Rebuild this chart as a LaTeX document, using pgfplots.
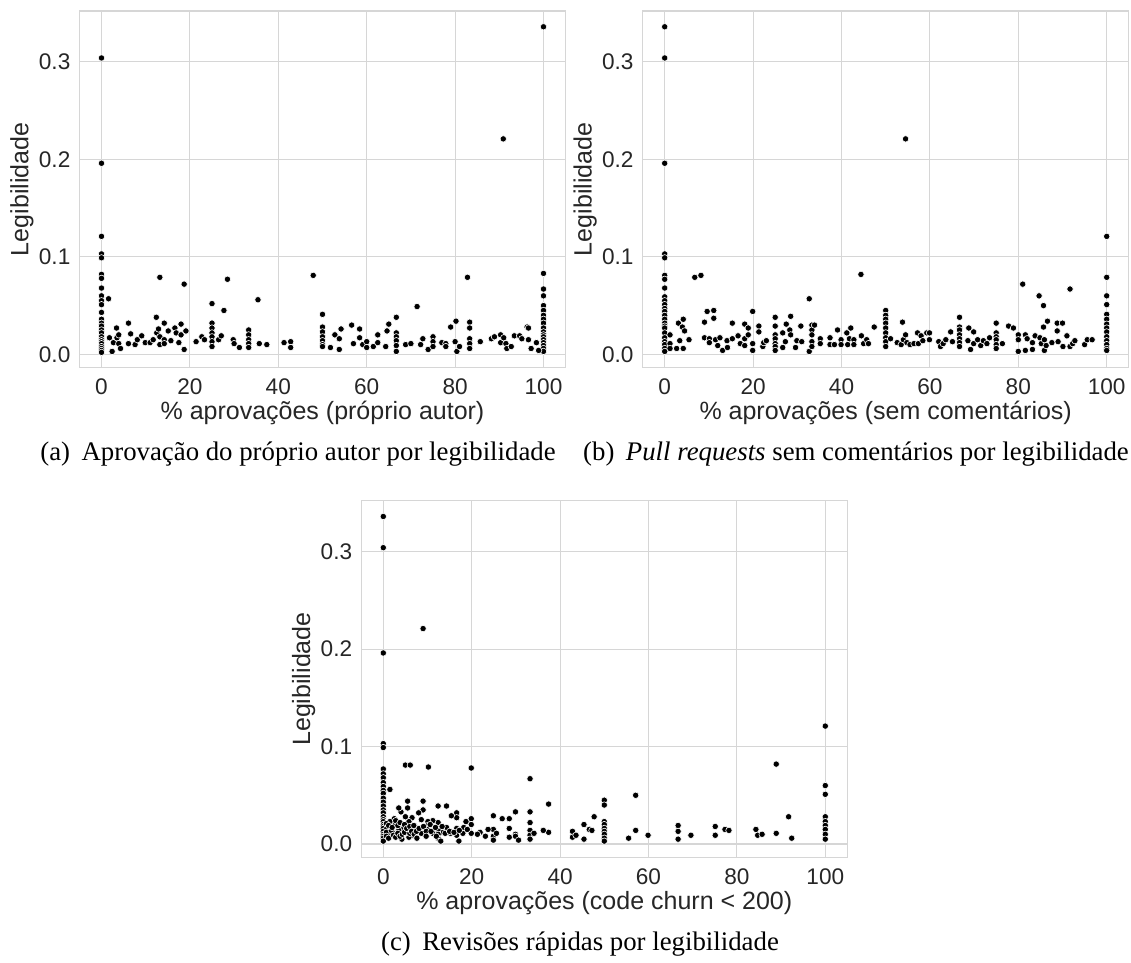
\documentclass[border=0pt]{standalone}
\usepackage{pgfplots}
\pgfplotsset{compat=1.18}
\usepackage{fontspec}
\setmainfont{Liberation Serif}
\newfontfamily\arialf{Liberation Sans}
\definecolor{gridc}{HTML}{D6D6D6}
\definecolor{txt}{HTML}{262626}

\pgfplotstableread{
x y
0 0.304
0 0.196
0 0.121
0 0.103
0 0.099
0 0.082
0 0.078
0 0.068
0 0.060
0 0.055
0 0.051
0 0.043
0 0.036
0 0.032
0 0.029
0 0.025
0 0.022
0 0.018
0 0.015
0 0.013
0 0.011
0 0.008
0 0.006
0 0.004
0 0.002
100 0.336
100 0.083
100 0.067
100 0.060
100 0.050
100 0.045
100 0.040
100 0.036
100 0.032
100 0.027
100 0.023
100 0.020
100 0.018
100 0.015
100 0.012
100 0.009
100 0.006
100 0.003
1.6 0.057
1.8 0.017
2.4 0.003
2.7 0.012
3.4 0.027
3.5 0.017
3.9 0.020
3.9 0.011
4.3 0.006
6.1 0.032
6.1 0.011
6.6 0.021
7.6 0.010
8.1 0.015
9.1 0.019
9.9 0.012
11.0 0.012
11.7 0.015
12.4 0.038
12.5 0.022
12.9 0.026
13.2 0.079
13.2 0.018
13.2 0.010
14.2 0.032
14.2 0.015
14.2 0.011
15.1 0.024
15.7 0.014
16.6 0.027
16.9 0.022
17.5 0.012
18.0 0.031
18.0 0.020
18.7 0.072
18.7 0.005
19.1 0.024
21.4 0.013
22.7 0.018
23.3 0.015
25 0.052
25 0.032
25 0.027
25 0.022
25 0.018
25 0.013
25 0.008
26.5 0.015
27.1 0.019
27.7 0.045
28.5 0.077
29.8 0.015
30.0 0.011
31.2 0.007
33.3 0.025
33.3 0.020
33.3 0.015
33.3 0.011
33.3 0.007
35.4 0.056
35.7 0.011
37.4 0.010
41.3 0.012
42.8 0.013
42.8 0.007
47.9 0.081
50 0.041
50 0.028
50 0.023
50 0.018
50 0.014
50 0.010
50 0.008
51.8 0.007
52.8 0.020
53.8 0.016
53.8 0.005
54.2 0.026
56.6 0.030
57.0 0.011
58.4 0.026
58.4 0.017
59.1 0.010
60.0 0.013
60.0 0.007
61.5 0.008
62.5 0.020
62.5 0.012
64.3 0.008
64.6 0.024
65.0 0.031
66.7 0.038
66.7 0.022
66.7 0.018
66.7 0.014
66.7 0.009
66.7 0.003
68.8 0.010
70.0 0.011
71.4 0.049
72.2 0.010
72.7 0.016
73.9 0.005
75 0.018
75 0.013
75 0.008
77.0 0.012
77.9 0.011
77.9 0.008
79.0 0.028
80.0 0.013
80.2 0.034
80.4 0.003
81.0 0.008
82.8 0.079
83.3 0.033
83.3 0.027
83.3 0.016
83.3 0.011
83.3 0.006
85.7 0.013
88.2 0.016
88.9 0.018
90.3 0.020
90.3 0.012
90.9 0.221
91.0 0.017
91.5 0.011
91.7 0.006
92.7 0.008
93.4 0.019
94.6 0.019
95.1 0.016
96.3 0.028
96.6 0.027
96.6 0.015
97.2 0.006
98.4 0.012
98.9 0.004
}\dataA

\pgfplotstableread{
x y
0 0.336
0 0.304
0 0.196
0 0.103
0 0.099
0 0.081
0 0.077
0 0.068
0 0.059
0 0.055
0 0.051
0 0.047
0 0.044
0 0.040
0 0.036
0 0.032
0 0.029
0 0.027
0 0.022
0 0.017
0 0.013
0 0.010
0 0.006
0 0.003
100 0.121
100 0.079
100 0.060
100 0.051
100 0.041
100 0.036
100 0.031
100 0.027
100 0.023
100 0.018
100 0.014
100 0.010
100 0.006
100 0.004
1.2 0.020
1.2 0.011
1.2 0.006
2.7 0.006
3.1 0.032
3.4 0.014
4.0 0.028
4.2 0.036
4.2 0.006
4.5 0.024
5.5 0.015
6.8 0.079
8.2 0.081
9.0 0.033
9.0 0.017
9.6 0.044
10.1 0.016
10.1 0.012
11.1 0.045
11.1 0.037
11.5 0.015
12.0 0.009
12.5 0.017
13.1 0.004
14.1 0.014
14.2 0.007
15.3 0.032
15.3 0.016
16.6 0.019
17.1 0.011
18.1 0.031
18.1 0.016
18.1 0.009
18.9 0.020
18.9 0.027
19.9 0.044
19.9 0.011
19.9 0.004
21.3 0.029
21.3 0.023
22.2 0.008
22.4 0.012
23.0 0.014
25 0.038
25 0.029
25 0.020
25 0.016
25 0.011
25 0.008
25 0.004
26.7 0.022
26.7 0.007
27.3 0.013
27.5 0.031
28.3 0.025
28.5 0.039
28.5 0.020
29.6 0.007
29.9 0.014
30.8 0.029
31.0 0.013
32.7 0.057
32.7 0.003
33.3 0.030
33.3 0.025
33.3 0.020
33.3 0.013
33.3 0.008
33.9 0.030
35.2 0.016
35.2 0.011
37.4 0.017
37.4 0.010
38.4 0.010
39.1 0.025
39.9 0.015
39.9 0.010
41.2 0.022
41.4 0.010
41.8 0.016
42.1 0.027
42.8 0.015
42.8 0.010
44.4 0.082
44.5 0.019
45.0 0.011
45.7 0.015
46.1 0.011
47.4 0.028
50 0.045
50 0.040
50 0.036
50 0.032
50 0.027
50 0.022
50 0.017
50 0.013
50 0.008
51.1 0.016
52.6 0.012
53.5 0.010
53.8 0.033
54.0 0.015
54.5 0.221
54.5 0.020
54.8 0.012
55.5 0.010
56.4 0.011
57.2 0.022
57.4 0.011
58.0 0.019
58.4 0.014
59.3 0.022
59.9 0.022
59.9 0.015
62.0 0.013
62.4 0.008
63.0 0.011
63.6 0.015
64.7 0.023
65.1 0.013
66.7 0.038
66.7 0.028
66.7 0.025
66.7 0.020
66.7 0.016
66.7 0.012
66.7 0.008
68.6 0.014
68.8 0.027
69.2 0.005
69.9 0.023
69.9 0.011
70.8 0.015
71.5 0.009
72.1 0.014
72.9 0.011
73.5 0.017
75 0.032
75 0.022
75 0.018
75 0.015
75 0.010
75 0.006
76.4 0.011
77.8 0.029
78.9 0.027
80 0.020
80 0.015
80 0.003
81.0 0.072
81.6 0.020
81.6 0.004
82.0 0.016
83.2 0.012
83.2 0.005
83.8 0.019
84.7 0.060
84.9 0.017
85.2 0.011
85.7 0.050
85.7 0.028
85.9 0.015
85.9 0.004
86.3 0.009
86.6 0.034
87.6 0.012
88.8 0.032
88.8 0.024
89.0 0.013
90.0 0.032
90.1 0.008
91.0 0.019
91.7 0.067
91.7 0.008
92.3 0.011
92.8 0.014
95.0 0.010
95.6 0.015
96.7 0.015
}\dataB

\pgfplotstableread{
x y
0 0.336
0 0.304
0 0.196
0 0.103
0 0.099
0 0.077
0 0.072
0 0.068
0 0.063
0 0.059
0 0.055
0 0.052
0 0.047
0 0.043
0 0.039
0 0.035
0 0.032
0 0.028
0 0.025
0 0.023
0 0.020
0 0.018
0 0.016
0 0.013
0 0.010
0 0.008
0 0.006
0 0.003
100 0.121
100 0.060
100 0.051
100 0.028
100 0.023
100 0.019
100 0.015
100 0.010
100 0.005
1.5 0.056
5.0 0.081
6.1 0.081
10.2 0.079
19.9 0.078
9.0 0.221
33.2 0.067
33.2 0.033
33.2 0.022
33.2 0.014
33.2 0.009
33.2 0.005
34.1 0.011
37.4 0.041
37.4 0.012
36.2 0.014
24.9 0.029
24.9 0.015
24.9 0.008
24.9 0.004
25.6 0.011
26.9 0.026
28.5 0.026
28.5 0.016
28.5 0.007
29.9 0.033
29.9 0.010
29.9 0.008
30.6 0.004
23.1 0.008
23.7 0.015
21.9 0.012
21.3 0.010
19.9 0.026
19.9 0.020
19.9 0.011
18.7 0.023
18.2 0.017
18.0 0.011
17.1 0.003
16.6 0.032
16.6 0.027
16.6 0.016
16.6 0.009
15.4 0.029
15.2 0.011
14.3 0.039
14.3 0.017
13.4 0.012
12.4 0.039
12.4 0.022
12.4 0.015
12.4 0.010
12.4 0.006
13.0 0.003
11.2 0.024
11.2 0.011
10.1 0.023
10.1 0.019
10.1 0.015
9.0 0.044
9.0 0.035
8.6 0.025
8.6 0.011
8.0 0.032
7.1 0.018
6.5 0.027
6.5 0.009
5.5 0.044
5.5 0.037
5.8 0.023
5.8 0.007
5.0 0.028
4.6 0.016
4.0 0.033
4.2 0.005
3.5 0.037
3.5 0.014
2.5 0.026
2.5 0.020
2.5 0.011
1.5 0.023
1.5 0.009
0.8 0.016
0.7 0.021
0.7 0.012
0.7 0.008
1.2 0.019
1.2 0.006
1.8 0.014
2.0 0.017
2.3 0.009
2.8 0.024
2.8 0.007
3.3 0.019
3.3 0.011
3.8 0.022
3.8 0.008
4.3 0.010
4.8 0.020
4.8 0.012
5.3 0.016
6.0 0.018
6.0 0.011
6.4 0.013
6.9 0.019
7.0 0.010
7.5 0.013
7.6 0.006
8.1 0.016
9.1 0.018
9.7 0.013
9.7 0.008
10.6 0.020
10.8 0.013
11.8 0.017
12.0 0.008
13.3 0.018
14.0 0.011
15.0 0.013
16.0 0.012
17.2 0.014
19.0 0.015
42.8 0.013
42.8 0.007
43.6 0.009
45.4 0.020
45.4 0.005
46.6 0.015
47.2 0.014
47.7 0.028
50 0.045
50 0.040
50 0.023
50 0.020
50 0.016
50 0.013
50 0.010
50 0.006
50 0.003
55.5 0.006
57.1 0.050
57.1 0.014
59.9 0.009
66.7 0.019
66.7 0.013
66.7 0.005
69.6 0.009
75.1 0.018
75.1 0.009
77.3 0.015
78.2 0.014
84.3 0.015
84.7 0.009
85.7 0.010
88.9 0.082
88.9 0.011
91.7 0.028
92.4 0.006
}\dataC

\pgfplotsset{
  sbstyle/.style={
    scale only axis,
    width=243.1pt, height=178.35pt,
    xmin=-5, xmax=105, ymin=-0.0137, ymax=0.3522,
    xtick={0,20,40,60,80,100},
    ytick={0,0.1,0.2,0.3},
    yticklabel style={/pgf/number format/fixed, /pgf/number format/fixed zerofill, /pgf/number format/precision=1},
    /pgf/number format/assume math mode=true,
    tick label style={font=\arialf\fontsize{11.3}{13}\selectfont, text=txt},
    label style={font=\arialf\fontsize{12.5}{14}\selectfont, text=txt},
    major tick length=0pt,
    grid=major,
    major grid style={color=gridc, line width=0.55pt},
    axis line style={color=gridc, line width=0.6pt},
    xticklabel style={anchor=center, yshift=-9.5pt},
    yticklabel style={anchor=east, xshift=-1pt},
    ylabel style={at={(axis description cs:-0.1183,0.5)}, anchor=center},
    xlabel style={at={(axis description cs:0.5,-0.127)}, anchor=center},
    ylabel={Legibilidade},
  },
  dots/.style={only marks, mark=*, mark size=1.6pt,
    mark options={fill=black, draw=white, line width=0.3pt}},
}

\begin{document}
\begin{tikzpicture}
\useasboundingbox (0,0) rectangle (565.5pt,481.5pt);
\begin{axis}[sbstyle, anchor=south west, at={(39.7pt,297.65pt)},
  xlabel={\% aprovações (próprio autor)}]
\addplot[dots] table[x=x,y=y] {\dataA};
\end{axis}
\begin{axis}[sbstyle, anchor=south west, at={(321.3pt,297.65pt)},
  xlabel={\% aprovações (sem comentários)}]
\addplot[dots] table[x=x,y=y] {\dataB};
\end{axis}
\begin{axis}[sbstyle, anchor=south west, at={(180.6pt,52.8pt)},
  xlabel={\% aprovações (code churn < 200)}]
\addplot[dots] table[x=x,y=y] {\dataC};
\end{axis}
\node[anchor=base, inner sep=0pt, font=\fontsize{13.4}{16}\selectfont] at (149pt,251pt) {(a)\hspace{0.43em}Aprovação do próprio autor por legibilidade};
\node[anchor=base, inner sep=0pt, font=\fontsize{13.4}{16}\selectfont] at (428pt,251pt) {(b)\hspace{0.43em}\textit{Pull requests} sem comentários por legibilidade};
\node[anchor=base, inner sep=0pt, font=\fontsize{13.4}{16}\selectfont] at (290pt,6.3pt) {(c)\hspace{0.43em}Revisões rápidas por legibilidade};
\end{tikzpicture}
\end{document}
